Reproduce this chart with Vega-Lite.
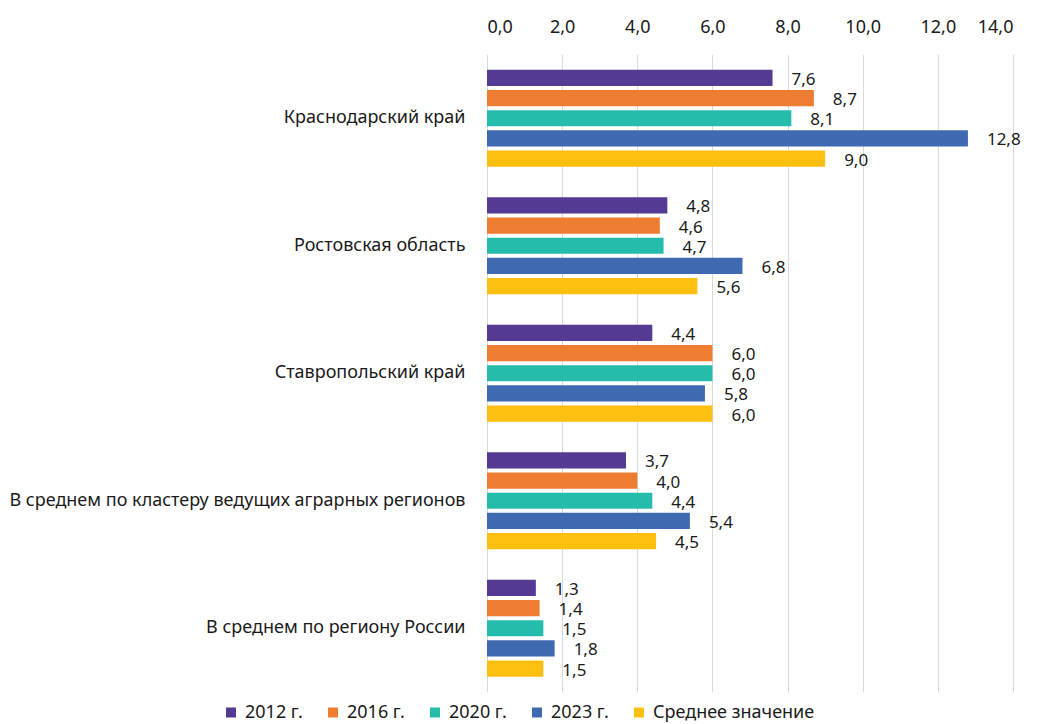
{
  "$schema": "https://vega.github.io/schema/vega-lite/v6.json",
  "width": 526,
  "height": 637.5,
  "autosize": {"type": "none"},
  "padding": {"left": 487, "top": 54.5, "right": 25, "bottom": 32},
  "config": {
    "locale": {"number": {"decimal": ",", "thousands": " ", "grouping": [3], "currency": ["", ""]}},
    "font": "Noto Sans",
    "view": {"stroke": null}
  },
  "data": {
    "values": [
      {"region": "Краснодарский край", "series": "2012 г.", "value": 7.6},
      {"region": "Краснодарский край", "series": "2016 г.", "value": 8.7},
      {"region": "Краснодарский край", "series": "2020 г.", "value": 8.1},
      {"region": "Краснодарский край", "series": "2023 г.", "value": 12.8},
      {"region": "Краснодарский край", "series": "Среднее значение", "value": 9.0},
      {"region": "Ростовская область", "series": "2012 г.", "value": 4.8},
      {"region": "Ростовская область", "series": "2016 г.", "value": 4.6},
      {"region": "Ростовская область", "series": "2020 г.", "value": 4.7},
      {"region": "Ростовская область", "series": "2023 г.", "value": 6.8},
      {"region": "Ростовская область", "series": "Среднее значение", "value": 5.6},
      {"region": "Ставропольский край", "series": "2012 г.", "value": 4.4},
      {"region": "Ставропольский край", "series": "2016 г.", "value": 6.0},
      {"region": "Ставропольский край", "series": "2020 г.", "value": 6.0},
      {"region": "Ставропольский край", "series": "2023 г.", "value": 5.8},
      {"region": "Ставропольский край", "series": "Среднее значение", "value": 6.0},
      {"region": "В среднем по кластеру ведущих аграрных регионов", "series": "2012 г.", "value": 3.7},
      {"region": "В среднем по кластеру ведущих аграрных регионов", "series": "2016 г.", "value": 4.0},
      {"region": "В среднем по кластеру ведущих аграрных регионов", "series": "2020 г.", "value": 4.4},
      {"region": "В среднем по кластеру ведущих аграрных регионов", "series": "2023 г.", "value": 5.4},
      {"region": "В среднем по кластеру ведущих аграрных регионов", "series": "Среднее значение", "value": 4.5},
      {"region": "В среднем по региону России", "series": "2012 г.", "value": 1.3},
      {"region": "В среднем по региону России", "series": "2016 г.", "value": 1.4},
      {"region": "В среднем по региону России", "series": "2020 г.", "value": 1.5},
      {"region": "В среднем по региону России", "series": "2023 г.", "value": 1.8},
      {"region": "В среднем по региону России", "series": "Среднее значение", "value": 1.5}
    ]
  },
  "encoding": {
    "y": {
      "field": "region", "type": "nominal", "sort": null, "title": null,
      "scale": {"paddingInner": 0.24, "paddingOuter": 0.12},
      "axis": {"ticks": false, "domain": false, "labelFontSize": 18, "labelColor": "#1a1a1a", "labelPadding": 22, "labelLimit": 600}
    },
    "yOffset": {
      "field": "series", "type": "nominal", "sort": null,
      "scale": {"paddingInner": 0.2, "paddingOuter": 0}
    },
    "x": {
      "field": "value", "type": "quantitative", "title": null,
      "scale": {"domain": [0, 14], "nice": false},
      "axis": {"orient": "top", "values": [0, 2, 4, 6, 8, 10, 12, 14], "format": ".1f", "grid": true, "gridColor": "#d9d9d9", "gridWidth": 1, "domain": false, "ticks": false, "labelFontSize": 18, "labelColor": "#1a1a1a", "labelPadding": 18}
    }
  },
  "layer": [
    {
      "mark": {"type": "bar"},
      "encoding": {
        "color": {
          "field": "series", "type": "nominal", "sort": null, "title": null,
          "scale": {"domain": ["2012 г.", "2016 г.", "2020 г.", "2023 г.", "Среднее значение"], "range": ["#553A94", "#EF7D31", "#26BCAB", "#3F69B1", "#FDC010"]},
          "legend": {"orient": "none", "legendX": -265, "legendY": 649, "direction": "horizontal", "columns": 5, "symbolType": "square", "symbolSize": 100, "symbolStrokeWidth": 0, "labelFontSize": 18, "labelColor": "#1a1a1a", "columnPadding": 21, "labelOffset": 5, "labelLimit": 300}
        }
      }
    },
    {
      "mark": {"type": "text", "align": "left", "baseline": "middle", "dx": 19, "dy": 2, "fontSize": 17, "color": "#1a1a1a"},
      "encoding": {
        "text": {"field": "value", "type": "quantitative", "format": ".1f"}
      }
    }
  ]
}
